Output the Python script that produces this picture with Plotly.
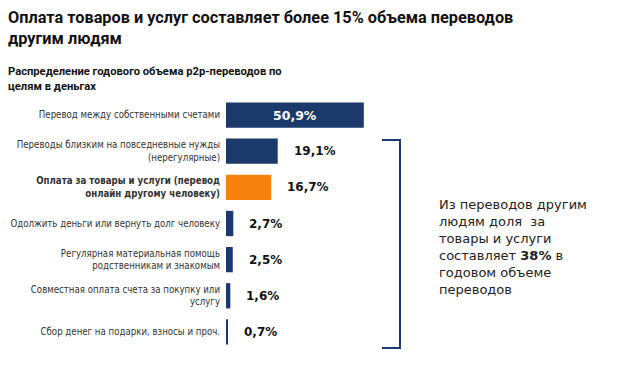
import plotly.graph_objects as go

categories = [
    "Перевод между собственными счетами",
    "Переводы близким на повседневные нужды<br>(нерегулярные)",
    "<b>Оплата за товары и услуги (перевод<br>онлайн другому человеку)</b>",
    "Одолжить деньги или вернуть долг человеку",
    "Регулярная материальная помощь<br>родственникам и знакомым",
    "Совместная оплата счета за покупку или<br>услугу",
    "Сбор денег на подарки, взносы и проч.",
]
values = [50.9, 19.1, 16.7, 2.7, 2.5, 1.6, 0.7]
highlight = [False, False, True, False, False, False, False]

NAVY = "#1b3a6b"
ORANGE = "#f6820d"
colors = [ORANGE if h else NAVY for h in highlight]

title_text = "Оплата товаров и услуг составляет более 15% объема переводов<br>другим людям"
subtitle_text = "Распределение годового объема p2p-переводов по<br>целям в деньгах"
side_text = ("Из переводов другим<br>людям доля  за<br>товары и услуги<br>"
             "составляет <b>38%</b> в<br>годовом объеме<br>переводов")

def fmt(v):
    return f"{v:.1f}".replace(".", ",") + "%"

W, H = 624, 367
ML, MR, MT, MB = 226, 0, 97, 17

fig = go.Figure(go.Bar(
    x=values, y=categories, orientation="h",
    marker=dict(color=colors, line=dict(width=0)),
    hoverinfo="skip",
))

annotations = []
for c, v in zip(categories, values):
    if v > 40:
        annotations.append(dict(x=v / 2, y=c, xref="x", yref="y", text=f"<b>{fmt(v)}</b>",
                                showarrow=False, xanchor="center",
                                font=dict(family="DejaVu Sans", size=12.5, color="white")))
    else:
        annotations.append(dict(x=v, y=c, xref="x", yref="y", text=f"<b>{fmt(v)}</b>",
                                showarrow=False, xanchor="left", xshift=14,
                                font=dict(family="DejaVu Sans", size=12, color="#111111")))

pw = W - ML - MR
ph = H - MT - MB
def px(xp):
    return (xp - ML) / pw
def py(yp):
    return (H - MB - yp) / ph

annotations.append(dict(x=px(6), y=py(6), xref="paper", yref="paper",
                        text=f"<b>{title_text}</b>", showarrow=False,
                        xanchor="left", yanchor="top", align="left",
                        font=dict(family="Roboto", size=16.3, color="#111111")))
annotations.append(dict(x=px(6), y=py(63), xref="paper", yref="paper",
                        text=f"<b>{subtitle_text}</b>", showarrow=False,
                        xanchor="left", yanchor="top", align="left",
                        font=dict(family="Roboto", size=11.2, color="#111111")))
annotations.append(dict(x=px(437), y=py(247), xref="paper", yref="paper",
                        text=side_text, showarrow=False, xanchor="left", yanchor="middle",
                        align="left",
                        font=dict(family="DejaVu Sans", size=13, color="#222222")))

# Bracket
bx0, bx1, by0, by1 = px(382), px(400), py(140), py(348)
shapes = [
    dict(type="path", xref="paper", yref="paper",
         path=f"M {bx0},{by0} L {bx1},{by0} L {bx1},{by1} L {bx0},{by1}",
         line=dict(color=NAVY, width=2)),
]

fig.update_layout(
    width=W, height=H,
    margin=dict(l=ML, r=MR, t=MT, b=MB, autoexpand=False),
    paper_bgcolor="white", plot_bgcolor="white",
    bargap=0.3,
    showlegend=False,
    xaxis=dict(range=[0, 147], visible=False, fixedrange=True),
    yaxis=dict(autorange="reversed", showgrid=False, showline=False, zeroline=False,
               automargin=False, fixedrange=True,
               ticks="", ticklabelstandoff=5,
               tickfont=dict(family="DejaVu Sans Condensed, DejaVu Sans", size=9.6, color="#333333")),
    annotations=annotations,
    shapes=shapes,
)

fig.write_html("out.html", config={"displayModeBar": False},
               post_script="document.body.style.margin='0';")
